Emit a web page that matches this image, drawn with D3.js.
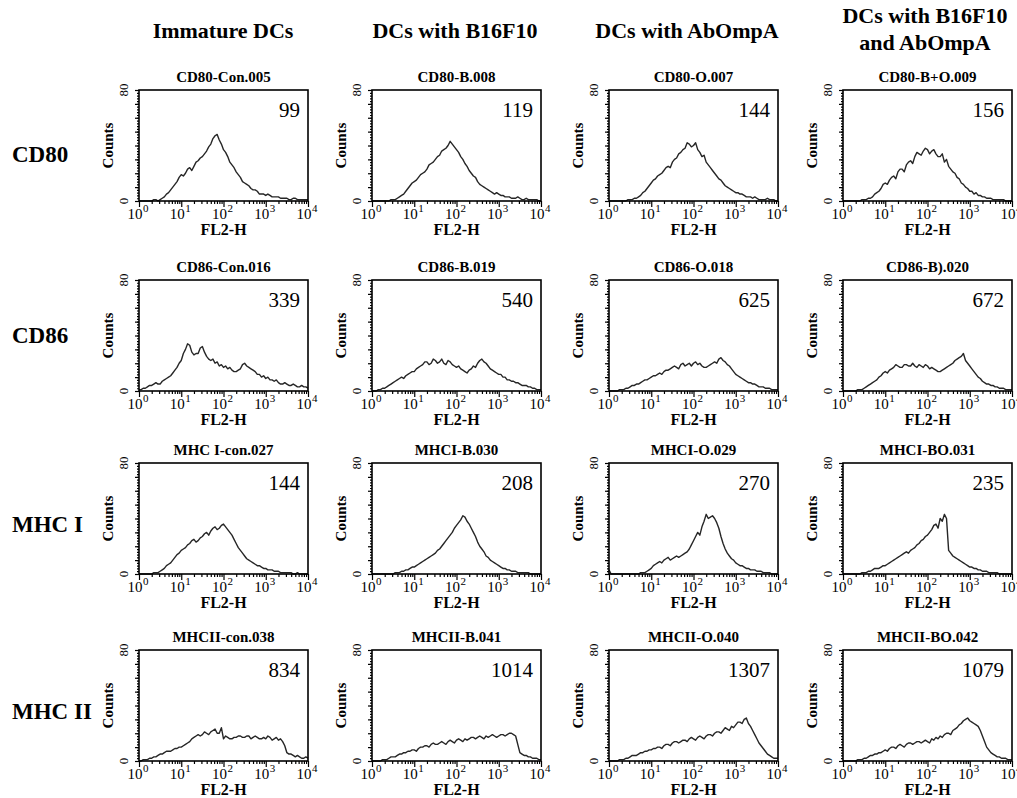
<!DOCTYPE html>
<html>
<head>
<meta charset="utf-8">
<script src="https://cdn.jsdelivr.net/npm/d3@7"></script>
<style>
    body { margin: 0; background: #fff; }
    svg { display: block; font-family: "Liberation Serif", "Times New Roman", serif; }
    .axis path { display: none; }
    .axis line { stroke: #000; stroke-width: 1.2; }
</style>
</head>
<body>
<svg id="chart" width="1017" height="798"></svg>
<script>
// column and row headings
const columnHeaders = [["Immature DCs"], ["DCs with B16F10"], ["DCs with AbOmpA"], ["DCs with B16F10", "and AbOmpA"]];
const rowLabels = ["CD80", "CD86", "MHC I", "MHC II"];

// panel titles and the number printed in each panel (row by row)
const panelTitles = [
    ["CD80-Con.005", "CD80-B.008", "CD80-O.007", "CD80-B+O.009"],
    ["CD86-Con.016", "CD86-B.019", "CD86-O.018", "CD86-B).020"],
    ["MHC I-con.027", "MHCI-B.030", "MHCI-O.029", "MHCI-BO.031"],
    ["MHCII-con.038", "MHCII-B.041", "MHCII-O.040", "MHCII-BO.042"]
];
const panelValues = [
    [99, 119, 144, 156],
    [339, 540, 625, 672],
    [144, 208, 270, 235],
    [834, 1014, 1307, 1079]
];

// channel positions in decades (log10 of FL2-H)
const binLog = [0, 0.05, 0.1, 0.15, 0.2, 0.25, 0.3, 0.35, 0.4, 0.45, 0.5, 0.55, 0.6, 0.65, 0.7, 0.75, 0.8, 0.85, 0.9, 0.95,
    1.0, 1.05, 1.1, 1.15, 1.2, 1.25, 1.3, 1.35, 1.4, 1.45, 1.5, 1.55, 1.6, 1.65, 1.7, 1.75, 1.8, 1.85, 1.9, 1.95,
    2.0, 2.05, 2.1, 2.15, 2.2, 2.25, 2.3, 2.35, 2.4, 2.45, 2.5, 2.55, 2.6, 2.65, 2.7, 2.75, 2.8, 2.85, 2.9, 2.95,
    3.0, 3.05, 3.1, 3.15, 3.2, 3.25, 3.3, 3.35, 3.4, 3.45, 3.5, 3.55, 3.6, 3.65, 3.7, 3.75, 3.8, 3.85, 3.9, 3.95, 4.0];

// counts
const cd80Con = [0,0, 0,0, 0,0, 0,1, 1,0, 1,2, 3,5, 6,8, 10,12, 14,17, 19,18, 20,23, 24,22, 25,28, 29,31, 32,34, 36,39, 41,45, 47,48,
    44,41, 37,35, 32,28, 26,24, 21,19, 17,14, 13,12, 11,9, 8,8, 7,5, 5,5, 4,5, 4,3, 3,3, 3,2, 2,2, 2,1, 1,2, 2,1, 1,1, 1,1, 1];
const cd80B = [0,0, 0,0, 0,0, 0,0, 0,1, 1,1, 2,3, 4,5, 7,9, 11,13, 14,15, 17,19, 20,21, 23,26, 27,28, 30,32, 33,36, 37,38, 40,43,
    41,39, 37,35, 32,30, 27,25, 22,20, 18,17, 14,12, 11,10, 9,8, 7,6, 5,6, 5,4, 4,3, 3,3, 2,2, 2,3, 2,1, 1,2, 1,1, 1,1, 1,0, 0];
const cd80O = [0,0, 0,0, 0,0, 0,0, 0,1, 1,1, 2,2, 3,4, 6,7, 9,11, 13,15, 16,18, 19,20, 22,24, 25,24, 28,30, 31,34, 35,37, 38,42,
    41,39, 40,42, 37,35, 32,33, 28,26, 24,22, 20,18, 16,15, 13,11, 10,9, 8,7, 6,6, 5,5, 4,3, 3,3, 2,3, 2,1, 1,1, 1,2, 1,1, 1,0, 0];
const cd80BO = [0,0, 0,0, 0,0, 0,0, 0,1, 1,1, 2,2, 3,5, 6,7, 9,12, 13,12, 15,17, 18,16, 21,23, 23,21, 26,28, 29,27, 32,35, 34,33,
    36,38, 37,34, 36,37, 34,32, 32,34, 28,30, 25,23, 21,20, 17,16, 13,12, 10,9, 7,7, 5,6, 4,4, 3,3, 2,2, 2,1, 1,1, 1,1, 1,0, 0,0, 0];

const cd86Con = [1,1, 2,2, 3,4, 4,5, 6,5, 5,7, 8,9, 10,11, 13,15, 17,20, 22,27, 30,34, 33,28, 26,27, 27,31, 32,28, 25,23, 22,23, 20,21,
    18,19, 17,18, 16,17, 15,14, 14,15, 16,19, 20,18, 17,16, 15,14, 12,12, 10,11, 9,10, 8,8, 7,8, 6,5, 5,6, 5,4, 4,5, 4,3, 3,4, 3,3, 2];
const cd86B = [0,0, 0,1, 1,2, 2,3, 4,5, 6,7, 8,9, 10,9, 11,12, 13,14, 14,16, 17,18, 19,21, 21,19, 20,23, 22,20, 21,23, 20,19, 22,21,
    19,18, 17,18, 16,15, 14,13, 15,16, 18,17, 20,22, 23,21, 20,18, 16,15, 14,13, 12,12, 10,10, 8,8, 7,7, 6,6, 5,4, 4,4, 3,3, 2,2, 1,1, 1];
const cd86O = [0,0, 0,0, 0,1, 1,1, 2,2, 3,4, 4,5, 5,6, 7,8, 8,9, 10,11, 11,12, 13,12, 14,15, 15,16, 17,18, 17,16, 19,20, 18,19,
    20,18, 20,21, 19,20, 18,17, 17,18, 19,20, 21,20, 23,24, 22,21, 19,18, 16,14, 12,11, 10,9, 8,7, 6,6, 5,5, 4,3, 3,3, 2,2, 2,1, 1,1, 1];
const cd86BO = [0,0, 0,0, 0,0, 0,1, 1,1, 2,3, 4,5, 6,7, 8,10, 11,13, 14,13, 15,16, 17,19, 18,17, 17,19, 19,18, 18,20, 18,17, 19,18,
    17,19, 18,16, 17,16, 15,14, 14,15, 16,17, 18,19, 20,22, 23,24, 25,27, 22,20, 18,16, 14,12, 10,9, 7,6, 5,5, 4,4, 3,3, 2,2, 2,1, 1,1, 1];

const mhc1Con = [0,0, 0,0, 0,0, 0,1, 1,1, 2,3, 4,6, 7,8, 10,12, 14,15, 17,18, 19,21, 22,24, 25,23, 24,26, 27,29, 30,28, 31,33, 34,32,
    33,35, 36,34, 32,30, 28,25, 22,19, 17,15, 13,11, 10,9, 8,7, 6,6, 5,4, 4,3, 3,3, 2,2, 2,1, 1,1, 1,1, 1,0, 0,1, 0,0, 0,0, 0];
const mhc1B = [0,0, 0,0, 0,0, 0,0, 0,0, 0,1, 1,1, 2,2, 3,3, 4,5, 5,6, 7,8, 9,10, 11,12, 13,14, 15,17, 18,20, 22,24, 26,28,
    30,33, 35,37, 39,42, 41,38, 36,33, 30,27, 23,20, 18,16, 13,12, 10,9, 8,7, 6,5, 4,4, 3,3, 2,2, 2,1, 1,1, 1,1, 1,0, 0,0, 0,0, 0];
const mhc1O = [3,0, 0,0, 0,0, 0,0, 0,0, 0,0, 0,0, 0,1, 1,1, 2,3, 4,6, 7,8, 9,8, 10,11, 12,10, 11,12, 13,12, 13,14, 15,16,
    18,21, 24,27, 30,28, 34,38, 43,40, 41,42, 40,37, 33,27, 22,18, 15,13, 11,10, 8,7, 6,6, 5,4, 4,3, 3,3, 2,2, 2,1, 1,1, 1,0, 0,0, 0];
const mhc1BO = [0,0, 0,0, 0,0, 0,0, 0,1, 1,1, 2,2, 3,4, 4,4, 5,6, 6,7, 8,9, 10,11, 12,13, 14,15, 16,15, 17,18, 19,21, 22,24,
    25,27, 28,30, 32,35, 36,33, 40,38, 43,40, 17,15, 13,12, 11,10, 9,8, 7,6, 5,5, 4,4, 3,3, 2,2, 2,1, 1,1, 1,1, 0,0, 0,0, 0,0, 0];

const mhc2Con = [0,0, 1,1, 1,2, 2,3, 3,4, 5,5, 6,7, 7,7, 8,9, 9,10, 10,11, 12,13, 14,16, 17,18, 19,18, 19,21, 20,19, 21,22, 23,20,
    20,24, 16,18, 17,16, 16,17, 17,18, 18,17, 17,18, 18,16, 17,18, 17,16, 16,17, 16,18, 17,15, 16,17, 15,16, 14,11, 6,5, 5,4, 3,4, 3,2, 2,3, 2];
const mhc2B = [0,0, 0,0, 0,1, 1,1, 2,3, 3,3, 4,5, 5,6, 6,7, 7,8, 8,7, 9,10, 10,11, 11,10, 12,13, 12,12, 13,14, 13,12, 14,15,
    14,13, 15,16, 15,14, 16,15, 16,17, 17,16, 17,18, 17,16, 18,17, 18,19, 18,17, 18,19, 19,18, 19,20, 20,19, 18,12, 6,5, 4,4, 3,3, 2,2, 2,1, 1];
const mhc2O = [0,0, 0,0, 0,1, 1,1, 2,2, 3,4, 4,4, 5,6, 6,7, 7,8, 8,9, 9,10, 10,9, 11,12, 12,11, 13,14, 14,13, 14,15, 15,14,
    16,17, 16,15, 17,18, 17,16, 18,19, 19,18, 20,21, 21,20, 22,24, 23,22, 25,24, 26,28, 28,27, 30,31, 27,25, 22,19, 16,13, 11,9, 7,5, 4,3, 2,2, 2];
const mhc2BO = [0,0, 0,0, 0,0, 0,1, 1,1, 2,2, 3,4, 4,5, 5,6, 6,7, 8,7, 9,10, 10,9, 11,12, 11,10, 12,13, 13,12, 13,14, 14,13,
    14,15, 14,13, 16,15, 17,16, 18,17, 19,20, 20,19, 22,23, 24,26, 27,29, 30,31, 29,28, 27,26, 25,22, 18,14, 10,8, 6,5, 4,3, 3,2, 2,2, 1,1, 1];

const panelCounts = [
    [cd80Con, cd80B, cd80O, cd80BO],
    [cd86Con, cd86B, cd86O, cd86BO],
    [mhc1Con, mhc1B, mhc1O, mhc1BO],
    [mhc2Con, mhc2B, mhc2O, mhc2BO]
];

// layout
const colLeft = [139, 372, 609, 843];
const rowTop = [90, 280, 463, 650];
const panelW = 169, panelH = 111;
const headerX = [223, 455, 687, 925];
const rowLabelY = [155, 336, 525, 712];

const svg = d3.select("#chart");

columnHeaders.forEach((lines, i) => {
    const t = svg.append("text")
        .attr("x", headerX[i])
        .attr("text-anchor", "middle")
        .attr("font-size", 22)
        .attr("font-weight", "bold");
    const baseY = lines.length > 1 ? 23 : 38;
    lines.forEach((line, j) => {
        t.append("tspan").attr("x", headerX[i]).attr("y", baseY + j * 27).text(line);
    });
});

rowLabels.forEach((label, i) => {
    svg.append("text")
        .attr("x", 12)
        .attr("y", rowLabelY[i] + 7)
        .attr("font-size", 23)
        .attr("font-weight", "bold")
        .text(label);
});

function drawPanel(r, c) {
    const left = colLeft[c], top = rowTop[r];
    const g = svg.append("g").attr("transform", "translate(" + left + "," + top + ")");

    const x = d3.scaleLog().domain([1, 1e4]).range([0, panelW]);
    const y = d3.scaleLinear().domain([0, 80]).range([panelH, 0]);

    const counts = panelCounts[r][c];
    const data = binLog.map((b, i) => ({fl: Math.pow(10, b), count: counts[i]}));

    const line = d3.line().x((d) => x(d.fl)).y((d) => y(d.count));

    g.append("path")
        .datum(data)
        .attr("d", line)
        .attr("fill", "none")
        .attr("stroke", "#262626")
        .attr("stroke-width", 1.4)
        .attr("stroke-linejoin", "round");

    // log ticks along the bottom
    const decades = [1, 10, 100, 1000, 10000];
    const minors = [];
    decades.slice(0, 4).forEach((d) => {
        for (let k = 2; k <= 9; k++) minors.push(d * k);
    });

    g.append("g")
        .attr("class", "axis")
        .attr("transform", "translate(0," + panelH + ")")
        .call(d3.axisBottom(x).tickValues(decades).tickSize(6).tickFormat(""));
    g.append("g")
        .attr("class", "axis")
        .attr("transform", "translate(0," + panelH + ")")
        .call(d3.axisBottom(x).tickValues(minors).tickSize(3).tickFormat(""));

    g.append("g")
        .attr("class", "axis")
        .call(d3.axisLeft(y).tickValues(d3.range(0, 81, 10)).tickSize(4).tickFormat(""));
    g.append("g")
        .attr("class", "axis")
        .call(d3.axisLeft(y).tickValues(d3.range(0, 81, 2)).tickSize(2).tickFormat(""));

    g.append("rect")
        .attr("width", panelW)
        .attr("height", panelH)
        .attr("fill", "none")
        .attr("stroke", "#000")
        .attr("stroke-width", 1.6);

    // decade labels 10^n
    decades.forEach((d, i) => {
        const t = g.append("text")
            .attr("x", x(d) - 1)
            .attr("y", panelH + 18)
            .attr("text-anchor", "middle")
            .attr("font-size", 15);
        t.append("tspan").text("10");
        t.append("tspan").attr("font-size", 11).attr("dy", -7).attr("dx", 0.5).text(i);
    });

    g.append("text")
        .attr("x", panelW / 2)
        .attr("y", panelH + 34)
        .attr("text-anchor", "middle")
        .attr("font-size", 16)
        .attr("font-weight", "bold")
        .text("FL2-H");

    // y labels, rotated
    [0, 80].forEach((v) => {
        g.append("text")
            .attr("transform", "translate(-11," + y(v) + ") rotate(-90)")
            .attr("text-anchor", "middle")
            .attr("font-size", 13)
            .text(v);
    });

    g.append("text")
        .attr("transform", "translate(-26," + (panelH / 2) + ") rotate(-90)")
        .attr("text-anchor", "middle")
        .attr("font-size", 15)
        .attr("font-weight", "bold")
        .text("Counts");

    g.append("text")
        .attr("x", panelW / 2)
        .attr("y", -8)
        .attr("text-anchor", "middle")
        .attr("font-size", 15)
        .attr("font-weight", "bold")
        .text(panelTitles[r][c]);

    g.append("text")
        .attr("x", panelW - 8)
        .attr("y", 27)
        .attr("text-anchor", "end")
        .attr("font-size", 21)
        .text(panelValues[r][c]);
}

for (let r = 0; r < 4; r++) {
    for (let c = 0; c < 4; c++) {
        drawPanel(r, c);
    }
}
</script>
</body>
</html>
